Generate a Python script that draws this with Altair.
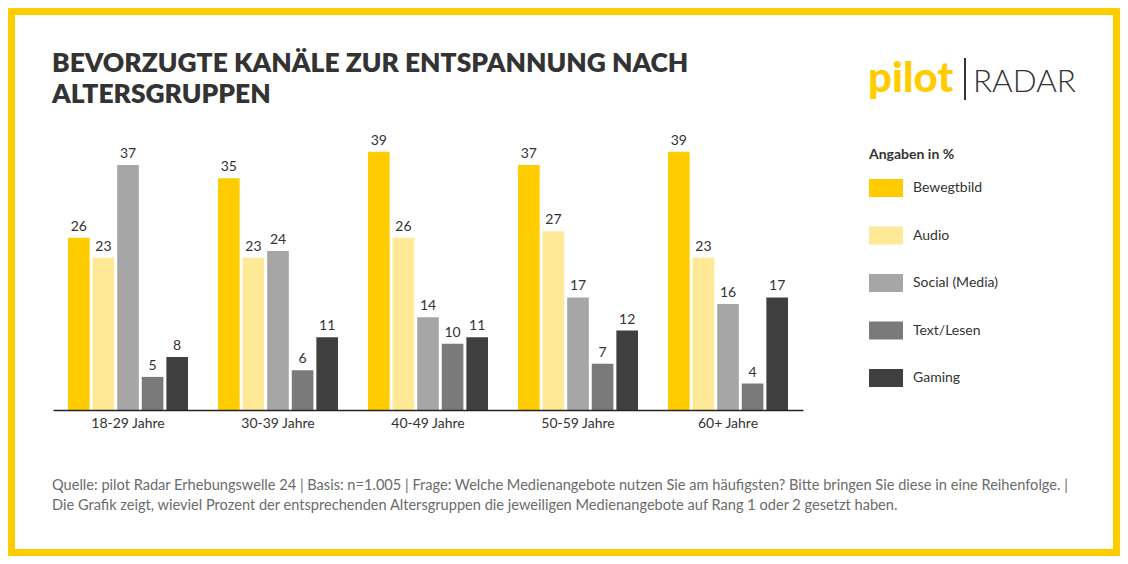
import altair as alt
import pandas as pd

groups = ["18-29 Jahre", "30-39 Jahre", "40-49 Jahre", "50-59 Jahre", "60+ Jahre"]
channels = ["Bewegtbild", "Audio", "Social (Media)", "Text/Lesen", "Gaming"]
colors = ["#FFCC00", "#FFE896", "#A6A6A6", "#7A7A7A", "#404040"]

bewegtbild = [26, 35, 39, 37, 39]
audio = [23, 23, 26, 27, 23]
social = [37, 24, 14, 17, 16]
text_lesen = [5, 6, 10, 7, 4]
gaming = [8, 11, 11, 12, 17]

title_lines = ["BEVORZUGTE KANÄLE ZUR ENTSPANNUNG NACH", "ALTERSGRUPPEN"]
foot_lines = [
    "Quelle: pilot Radar Erhebungswelle 24 | Basis: n=1.005 | Frage: Welche Medienangebote nutzen Sie am häufigsten? Bitte bringen Sie diese in eine Reihenfolge. |",
    "Die Grafik zeigt, wieviel Prozent der entsprechenden Altersgruppen die jeweiligen Medienangebote auf Rang 1 oder 2 gesetzt haben.",
]

series = [bewegtbild, audio, social, text_lesen, gaming]
rows = []
for ch, vals in zip(channels, series):
    for g, v in zip(groups, vals):
        rows.append({"group": g, "channel": ch, "value": v})
df = pd.DataFrame(rows)

FONT = "Lato"
DARK = "#333333"

one = alt.Data(values=[{}])

bg = alt.Chart(one).mark_rect(color="white").encode(
    x=alt.value(-38), x2=alt.value(1060), y=alt.value(-130), y2=alt.value(404)
)

base = alt.Chart(df).encode(
    x=alt.X(
        "group:N",
        sort=groups,
        scale=alt.Scale(paddingInner=0.2, paddingOuter=0.1),
        axis=alt.Axis(
            title=None, labelAngle=0, ticks=False, domainColor="#222222",
            domainWidth=1.5, labelFontSize=14, labelColor=DARK, labelPadding=6,
            labelFont=FONT, zindex=2,
        ),
    ),
    xOffset=alt.XOffset("channel:N", sort=channels, scale=alt.Scale(paddingInner=0.12)),
)

bars = base.mark_bar().encode(
    y=alt.Y("value:Q", scale=alt.Scale(domain=[0, 40]), axis=None),
    color=alt.Color(
        "channel:N",
        sort=channels,
        scale=alt.Scale(domain=channels, range=colors),
        legend=alt.Legend(
            title="Angaben in %", orient="none", legendX=816, legendY=3,
            titleFont=FONT, titleFontSize=14, titleFontWeight="bold", titleColor=DARK,
            titlePadding=9, labelFont=FONT, labelFontSize=14, labelColor=DARK,
            labelOffset=10, symbolType="M-1,-0.53H1V0.53H-1Z", symbolSize=1156,
            symbolStrokeWidth=0, symbolOpacity=1, rowPadding=20.5, padding=0,
            zindex=2,
        ),
    ),
)

labels = base.mark_text(dy=-4, baseline="bottom", fontSize=14, color=DARK, font=FONT).encode(
    y=alt.Y("value:Q"), text="value:Q"
)

def txt(s, x, y, size, color=DARK, weight="normal"):
    return alt.Chart(one).mark_text(
        align="left", baseline="alphabetic", fontSize=size, font=FONT,
        fontWeight=weight, color=color,
    ).encode(x=alt.value(x), y=alt.value(y), text=alt.value(s))

t1 = txt(title_lines[0], -1, -73, 26.4, weight=800)
t2 = txt(title_lines[1], -1, -42, 26.4, weight=800)
f1 = txt(foot_lines[0], -1, 345, 14.6, color="#6B6B6B")
f2 = txt(foot_lines[1], -1, 365, 14.6, color="#6B6B6B")
logo1 = txt("pilot", 815, -53, 42, color="#FFCC00", weight=900)
logo2 = txt("RADAR", 920, -53, 31.5, weight=300)
bar_sep = alt.Chart(one).mark_rule(color=DARK, strokeWidth=2).encode(
    x=alt.value(912), y=alt.value(-87), y2=alt.value(-45)
)

chart = alt.layer(bg, bars, labels, t1, t2, f1, f2, logo1, bar_sep, logo2).properties(
    width=750, height=265,
    autosize=alt.AutoSizeParams(type="none"),
    padding={"left": 45, "top": 137, "right": 317, "bottom": 146},
).configure(background="#FFCC00").configure_view(stroke=None)

chart.save("out.html", embed_options={"renderer": "svg", "actions": False})
